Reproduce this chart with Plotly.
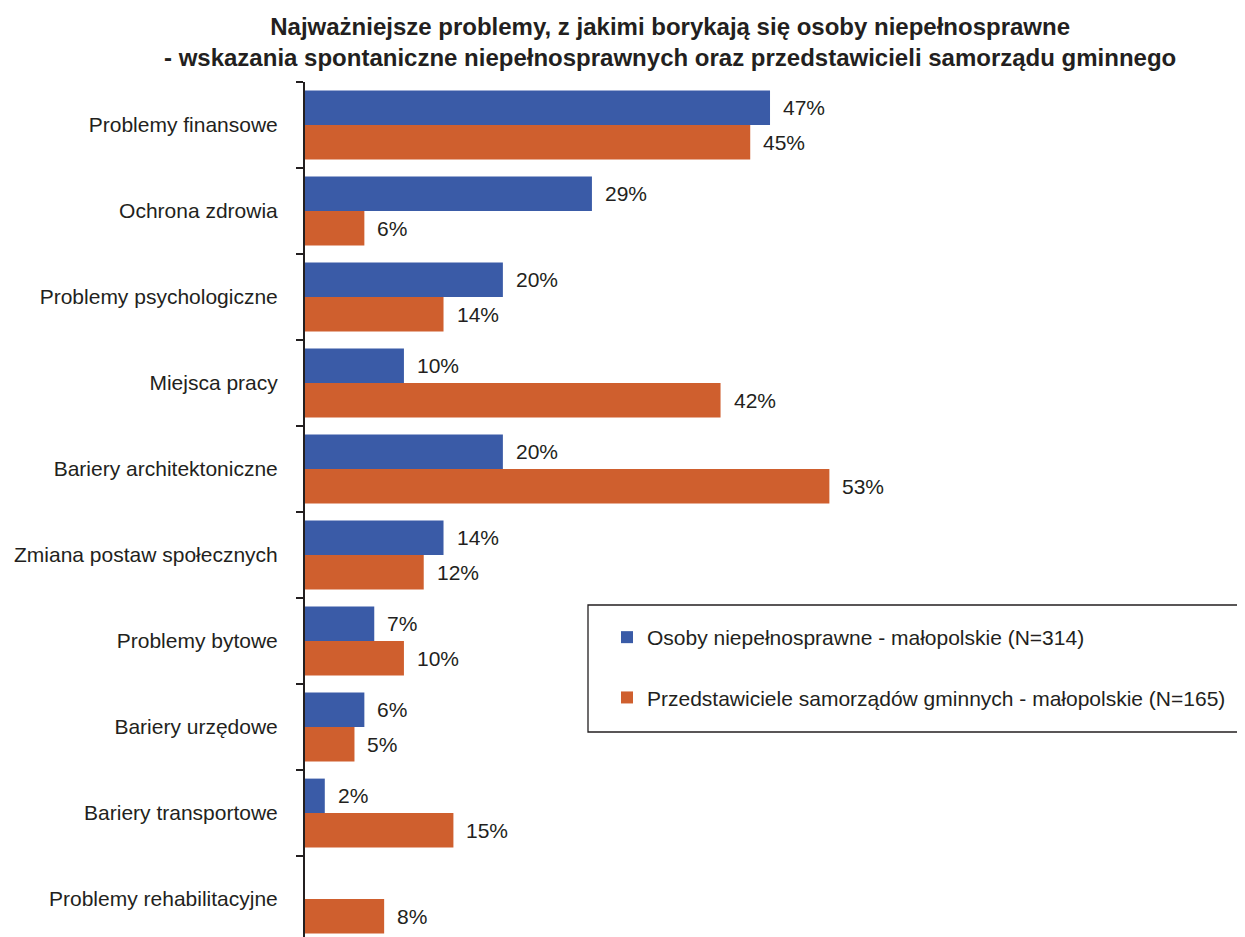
import plotly.graph_objects as go

categories = ["Problemy finansowe", "Ochrona zdrowia", "Problemy psychologiczne",
              "Miejsca pracy", "Bariery architektoniczne", "Zmiana postaw społecznych",
              "Problemy bytowe", "Bariery urzędowe", "Bariery transportowe",
              "Problemy rehabilitacyjne"]
osoby = [47, 29, 20, 10, 20, 14, 7, 6, 2, None]
samorzady = [45, 6, 14, 42, 53, 12, 10, 5, 15, 8]
series_names = ["Osoby niepełnosprawne - małopolskie (N=314)",
                "Przedstawiciele samorządów gminnych - małopolskie (N=165)"]
colors = ["#3A5BA7", "#CF5F2E"]
title_lines = ["Najważniejsze problemy, z jakimi borykają się osoby niepełnosprawne",
               "- wskazania spontaniczne niepełnosprawnych oraz przedstawicieli samorządu gminnego"]

FONT = "Liberation Sans"
TXT = "#231F20"

OFF = 8  # browser body margin
W, H = 1245 - OFF, 937 - OFF
ML, MR, MT, MB = 305 - OFF, 2, 82 - OFF, 0
pw, ph = W - ML - MR, H - MT - MB
px_per_pct = 9.894
cat_px = 86.0

fig = go.Figure()
for name, vals, col in zip(series_names, [osoby, samorzady], colors):
    fig.add_trace(go.Bar(
        y=categories, x=[v if v is not None else 0 for v in vals], orientation="h",
        name=name, marker=dict(color=col, line=dict(width=0)),
        legendgroup=name, hoverinfo="skip"))

def px2x(p):
    return (p - OFF - ML) / pw

def px2y(p):
    return 1 - (p - OFF - MT) / ph

annotations = []
for si, vals in enumerate([osoby, samorzady]):
    off = -0.2 if si == 0 else 0.2
    for i, v in enumerate(vals):
        if v is None:
            continue
        annotations.append(dict(x=v, y=i + off, xref="x", yref="y", text=f"{v}%",
                                showarrow=False, xanchor="left", yanchor="middle",
                                xshift=11, font=dict(family=FONT, size=21, color=TXT)))

annotations.append(dict(x=px2x(670), y=1, xref="paper", yref="paper", yanchor="bottom",
                        xanchor="center", yshift=9, showarrow=False,
                        text="<b>" + title_lines[0] + "<br>" + title_lines[1] + "</b>",
                        font=dict(family=FONT, size=24, color=TXT)))

shapes = [dict(type="rect", xref="paper", yref="paper",
               x0=px2x(588), x1=px2x(1243), y0=px2y(732), y1=px2y(605),
               line=dict(color="#231F20", width=1.3), fillcolor="rgba(0,0,0,0)")]

n_vis = ph / cat_px
fig.update_layout(
    width=W, height=H,
    margin=dict(l=ML, r=MR, t=MT, b=MB, pad=0),
    paper_bgcolor="white", plot_bgcolor="white",
    barmode="group", bargap=0.2, bargroupgap=0,
    annotations=annotations, shapes=shapes,
    showlegend=True,
    legend=dict(x=px2x(607), y=px2y(617), xanchor="left", yanchor="top",
                bgcolor="rgba(0,0,0,0)", borderwidth=0,
                font=dict(family=FONT, size=21, color=TXT),
                tracegroupgap=30, traceorder="grouped"),
    xaxis=dict(range=[0, pw / px_per_pct], visible=False, fixedrange=True),
    yaxis=dict(type="category", categoryorder="array", categoryarray=categories,
               range=[-0.5 + n_vis, -0.5], showline=True, linecolor="#231F20",
               linewidth=2, ticks="outside", tickson="boundaries", ticklen=7,
               tickcolor="#231F20", tickwidth=2, showgrid=False,
               ticklabelstandoff=21,
               tickfont=dict(family=FONT, size=21, color=TXT), fixedrange=True),
    font=dict(family=FONT, color=TXT),
)

fig.write_html("out.html")
